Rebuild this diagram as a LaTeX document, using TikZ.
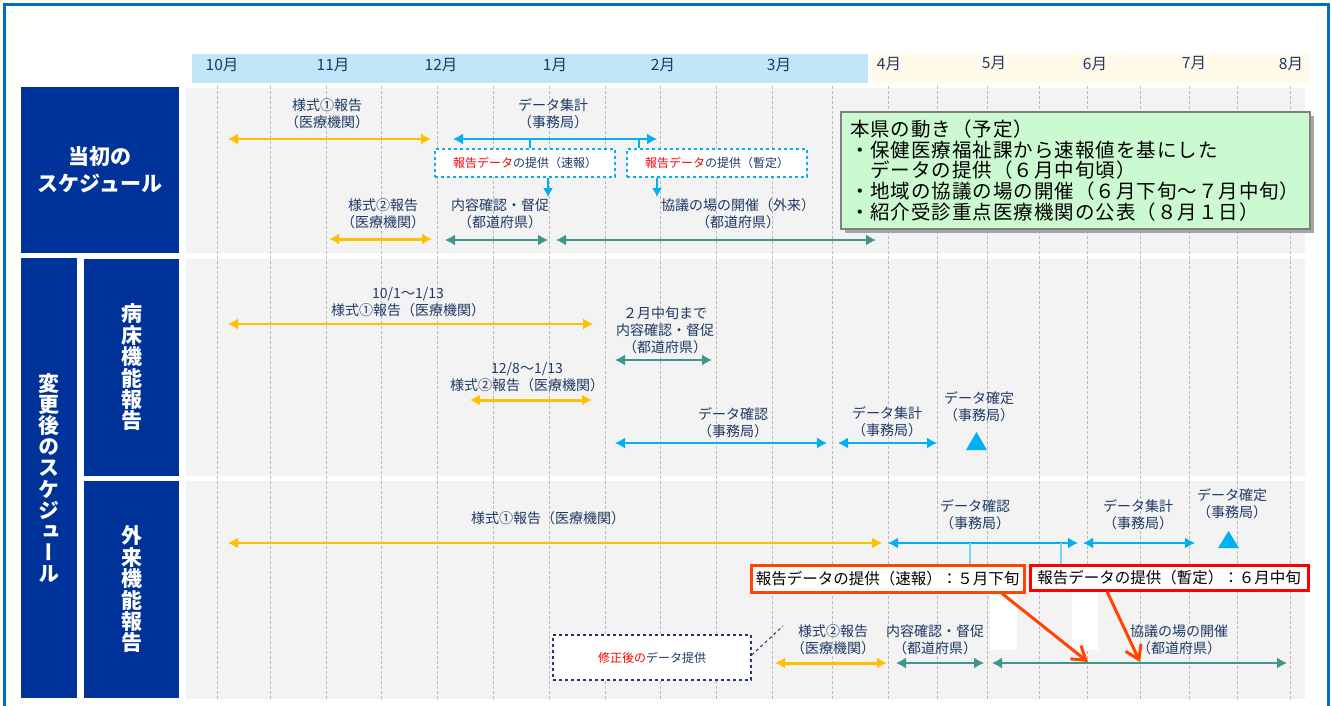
\documentclass[tikz,border=0pt]{standalone}
\usepackage{fontspec}
\setmainfont{Noto Sans CJK JP}
\newfontfamily\vfont[RawFeature=+vert]{Noto Sans CJK JP}
\newfontfamily\gfont[LetterSpace=5]{Noto Sans CJK JP}
\usetikzlibrary{arrows.meta}
\definecolor{navyT}{RGB}{31,56,100}
\definecolor{boxN}{RGB}{0,51,153}
\definecolor{frameB}{RGB}{0,112,192}
\definecolor{hdrB}{RGB}{192,230,247}
\definecolor{hdrY}{RGB}{255,250,234}
\definecolor{panel}{RGB}{243,243,243}
\definecolor{gridG}{RGB}{185,185,185}
\definecolor{ylw}{RGB}{255,192,0}
\definecolor{blu}{RGB}{0,176,240}
\definecolor{tealA}{RGB}{64,150,140}
\definecolor{redO}{RGB}{255,69,0}
\definecolor{grnF}{RGB}{204,250,208}
\begin{document}
\begin{tikzpicture}[x=1pt,y=-1pt,
  lbl/.style={text=navyT,font=\fontsize{14}{17}\selectfont,align=center,inner sep=0pt},
  mon/.style={text=navyT,font=\fontsize{15.5}{17}\selectfont,inner sep=0pt},
  garr/.style={line width=1.5pt,{Latex[length=10pt,width=11pt]}-{Latex[length=10pt,width=11pt]}},
  ya/.style={garr,draw=ylw},
  yat/.style={garr,draw=ylw,line width=3pt},
  ba/.style={garr,draw=blu},
  ta/.style={garr,draw=tealA},
  downa/.style={draw=blu,line width=1.5pt,-{Latex[length=9pt,width=10pt]}},
  dbox/.style={draw=blu,dashed,line width=1.3pt,fill=white,inner sep=0pt,font=\fontsize{12}{14}\selectfont,text=navyT},
  sidebox/.style={fill=boxN,inner sep=0pt,text=white},
  rbox/.style={fill=white,line width=3pt,inner sep=0pt,font=\fontsize{15.5}{17}\selectfont,text=black},
  oarr/.style={draw=redO,line width=3pt,-{Straight Barb[length=13pt,width=17pt]}},
  grid/.style={draw=gridG,line width=0.9pt,dash pattern=on 3pt off 2pt}
]
\useasboundingbox (0,0) rectangle (1332,706);
\fill[white] (0,0) rectangle (1332,706);
% outer frame
\draw[frameB,line width=2.5pt] (4.5,706) -- (4.5,4.5) -- (1328.5,4.5) -- (1328.5,706);
% header bars
\fill[hdrB] (192,54) rectangle (868,83);
\fill[hdrY] (872,53) rectangle (1309,83);
\node[mon] (m10) at (222,65) {10月};
\node[mon] (m11) at (333,65) {11月};
\node[mon] (m12) at (441,65) {12月};
\node[mon] (m1) at (555,65) {1月};
\node[mon] (m2) at (663,65) {2月};
\node[mon] (m3) at (779,65) {3月};
\node[mon] (m4) at (889,64) {4月};
\node[mon] (m5) at (994,63) {5月};
\node[mon] (m6) at (1095,64) {6月};
\node[mon] (m7) at (1194,63) {7月};
\node[mon] (m8) at (1291,64) {8月};
% panels
\fill[panel] (186,88) rectangle (1305,253);
\fill[panel] (186,259) rectangle (1305,476);
\fill[panel] (186,481) rectangle (1305,699);
% grid lines
\foreach \gx in {217,270,326,381,437,493,549,605,660,716,772,832,888,937,987,1039,1087,1140,1189,1237,1290}
  \draw[grid] (\gx,86) -- (\gx,701);
% white patches
\fill[white] (990,592) rectangle (1017,650);
\fill[white] (1072,590) rectangle (1098,650);
% side boxes
\node[sidebox,minimum width=158pt,minimum height=166pt,font=\bfseries\fontsize{21}{27}\selectfont,align=center] (s1) at (100,170) {当初の\\スケジュール};
\node[sidebox,minimum width=56pt,minimum height=440pt,font=\vfont\bfseries\fontsize{21}{21.2}\selectfont,align=center] (s2) at (49,478) {変\\更\\後\\の\\ス\\ケ\\ジ\\ュ\\ー\\ル};
\node[sidebox,minimum width=95pt,minimum height=217pt,font=\vfont\bfseries\fontsize{21}{21.4}\selectfont,align=center] (s3) at (131.5,367.5) {病\\床\\機\\能\\報\\告};
\node[sidebox,minimum width=95pt,minimum height=217pt,font=\vfont\bfseries\fontsize{21}{21.4}\selectfont,align=center] (s4) at (131.5,589.5) {外\\来\\機\\能\\報\\告};
% ===== row 1 =====
\node[lbl] (t1) at (327,114) {様式①報告\\（医療機関）};
\draw[ya] (228,139) coordinate (y1a) -- (431,139) coordinate (y1b);
\node[lbl] (t2) at (383,214) {様式②報告\\（医療機関）};
\draw[yat] (329,239) coordinate (y2a) -- (432,239) coordinate (y2b);
\node[lbl] (t3) at (553,114) {データ集計\\（事務局）};
\draw[ba] (453,139) coordinate (b1a) -- (657,139) coordinate (b1b);
\node[dbox,minimum width=180pt,minimum height=28pt] (d1) at (525,163) {{\color{red}報告データ}の提供（速報）};
\node[dbox,minimum width=180pt,minimum height=28pt] (d2) at (717,163) {{\color{red}報告データ}の提供（暫定）};
\coordinate (k1) at (530,139);
\coordinate (k2) at (639,139);
\draw[blu,line width=1.5pt] (k1) -- (k1 |- d1.north);
\draw[blu,line width=1.5pt] (k2) -- (k2 |- d2.north);
\coordinate (dn1) at (548,197);
\coordinate (dn2) at (657,197);
\draw[downa] (dn1 |- d1.south) -- (dn1);
\draw[downa] (dn2 |- d2.south) -- (dn2);
\node[lbl] (t4) at (500,214) {内容確認・督促\\（都道府県）};
\draw[ta] (445,240) coordinate (c1a) -- (548,240) coordinate (c1b);
\node[lbl] (t5) at (738,214) {協議の場の開催（外来）\\（都道府県）};
\draw[ta] (556,240) coordinate (c2a) -- (876,240) coordinate (c2b);
% green box
\fill[gray!70] (845,116) rectangle (1314,233);
\node[draw=gray,line width=1.2pt,fill=grnF,minimum width=469pt,minimum height=117pt,text width=451pt,inner xsep=9pt,inner ysep=0pt,align=left,font=\gfont\fontsize{19.5}{20.8}\selectfont,text=black] (g) at (1075.5,170.5)
{本県の動き（予定）\\・保健医療福祉課から速報値を基にした\\　データの提供（６月中旬頃）\\・地域の協議の場の開催（６月下旬～７月中旬）\\・紹介受診重点医療機関の公表（８月１日）};
% ===== row 2 =====
\node[lbl] (t6) at (408,302) {10/1～1/13\\様式①報告（医療機関）};
\draw[ya] (228,324) coordinate (y3a) -- (593,324) coordinate (y3b);
\node[lbl] (t7) at (527,377) {12/8～1/13\\様式②報告（医療機関）};
\draw[yat] (470,400) coordinate (y4a) -- (592,400) coordinate (y4b);
\node[lbl] (t8) at (665,330) {２月中旬まで\\内容確認・督促\\（都道府県）};
\draw[ta] (615,360) coordinate (c3a) -- (712,360) coordinate (c3b);
\node[lbl] (t9) at (733,423) {データ確認\\（事務局）};
\draw[ba] (615,443) coordinate (b2a) -- (827,443) coordinate (b2b);
\node[lbl] (t10) at (887,422) {データ集計\\（事務局）};
\draw[ba] (838,443) coordinate (b3a) -- (937,443) coordinate (b3b);
\node[lbl] (t11) at (979,407) {データ確定\\（事務局）};
\fill[blu] (966,450) -- (987,450) -- (976.5,432) -- cycle;
% ===== row 3 =====
\node[lbl] (t12) at (548,518) {様式①報告（医療機関）};
\draw[ya] (228,543) coordinate (y5a) -- (882,543) coordinate (y5b);
\node[lbl] (t13) at (975,515) {データ確認\\（事務局）};
\draw[ba] (888,543) coordinate (b4a) -- (1078,543) coordinate (b4b);
\node[lbl] (t14) at (1138,515) {データ集計\\（事務局）};
\draw[ba] (1083,543) coordinate (b5a) -- (1195,543) coordinate (b5b);
\node[lbl] (t15) at (1232,504) {データ確定\\（事務局）};
\fill[blu] (1218,548) -- (1239,548) -- (1228.5,531) -- cycle;
\node[rbox,draw=redO,minimum width=273pt,minimum height=27pt] (r1) at (887.5,578.5) {報告データの提供（速報）：５月下旬};
\node[rbox,draw=red,minimum width=278pt,minimum height=25pt] (r2) at (1169,577.5) {報告データの提供（暫定）：６月中旬};
\coordinate (k3) at (970,543);
\coordinate (k4) at (1061,543);
\draw[blu!55,line width=1.5pt] (k3) -- (k3 |- r1.north);
\draw[blu!55,line width=1.5pt] (k4) -- (k4 |- r2.north);
\node[lbl] (t16) at (1179,640) {協議の場の開催\\（都道府県）};
\draw[ta] (992,663) coordinate (c4a) -- (1287,663) coordinate (c4b);
\node[lbl] (t17) at (833,640) {様式②報告\\（医療機関）};
\draw[yat] (775,663) coordinate (y6a) -- (887,663) coordinate (y6b);
\node[lbl] (t18) at (935,640) {内容確認・督促\\（都道府県）};
\draw[ta] (896,663) coordinate (c5a) -- (984,663) coordinate (c5b);
\coordinate (o1) at (1088,662);
\coordinate (o2) at (1140,662);
\draw[oarr] (r1.south -| 1002,0) -- (o1);
\draw[oarr] (r2.south -| 1107,0) -- (o2);
\node[draw=navyT,dashed,line width=1.3pt,fill=white,minimum width=198pt,minimum height=45pt,inner sep=0pt,font=\fontsize{12}{14}\selectfont,text=navyT] (fix) at (652,657.5) {{\color{red}修正後の}データ提供};
\coordinate (fixe) at (783,626);
\draw[navyT,dashed,line width=1pt] (fix.east |- 0,655) -- (fixe);
\end{tikzpicture}
\end{document}
